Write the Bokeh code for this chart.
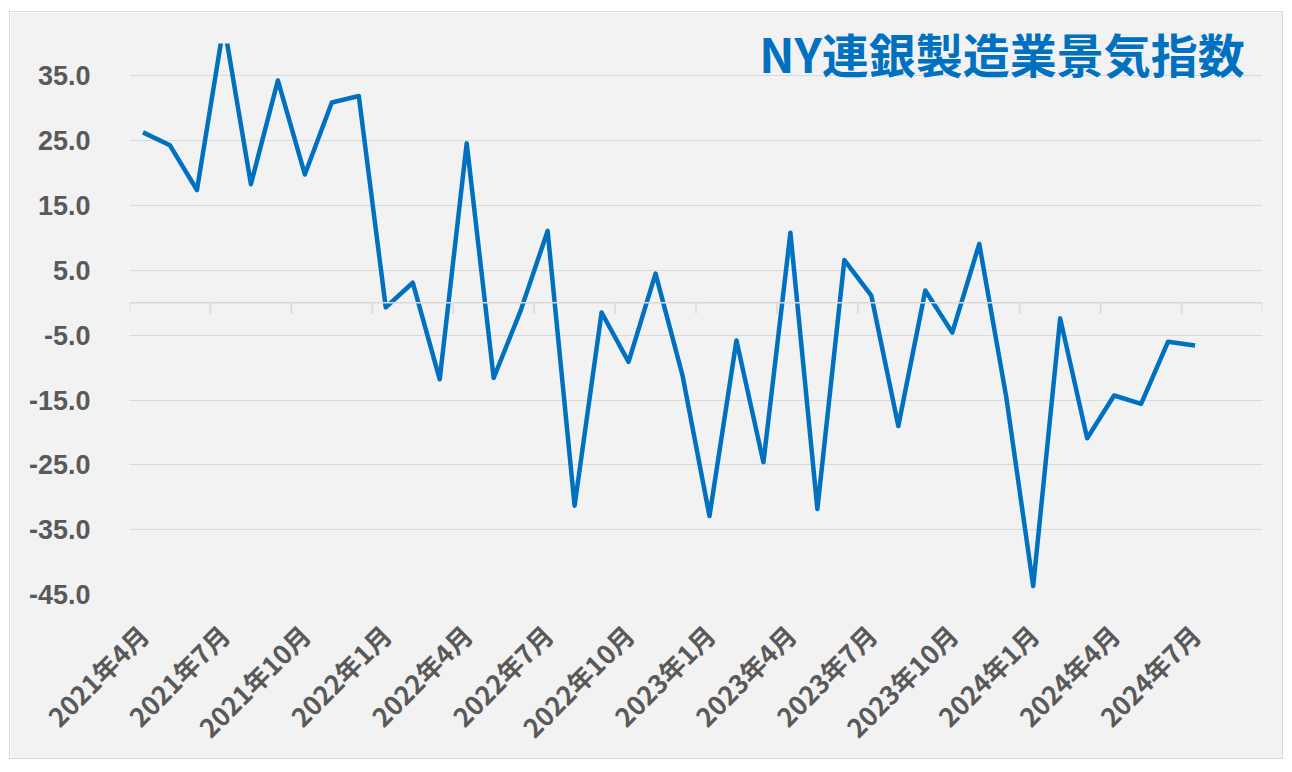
from math import pi
from bokeh.plotting import figure
from bokeh.models import (Range1d, FixedTicker, Span, Label, NumeralTickFormatter)
from bokeh.embed import file_html
from bokeh.resources import INLINE

# ---- data ----
months = ["2021年4月", "2021年5月", "2021年6月", "2021年7月", "2021年8月", "2021年9月",
          "2021年10月", "2021年11月", "2021年12月", "2022年1月", "2022年2月", "2022年3月",
          "2022年4月", "2022年5月", "2022年6月", "2022年7月", "2022年8月", "2022年9月",
          "2022年10月", "2022年11月", "2022年12月", "2023年1月", "2023年2月", "2023年3月",
          "2023年4月", "2023年5月", "2023年6月", "2023年7月", "2023年8月", "2023年9月",
          "2023年10月", "2023年11月", "2023年12月", "2024年1月", "2024年2月", "2024年3月",
          "2024年4月", "2024年5月", "2024年6月", "2024年7月", "2024年8月", "2024年9月"]
index_values = [26.3, 24.3, 17.4, 43.0, 18.3, 34.3, 19.8, 30.9, 31.9,
                -0.7, 3.1, -11.8, 24.6, -11.6, -1.2, 11.1, -31.3, -1.5, -9.1, 4.5, -11.2,
                -32.9, -5.8, -24.6, 10.8, -31.8, 6.6, 1.1, -19.0, 1.9, -4.6, 9.1, -14.5,
                -43.7, -2.4, -20.9, -14.3, -15.6, -6.0, -6.6]
y_ticks = [-45, -35, -25, -15, -5, 5, 15, 25, 35]
title_text = "NY連銀製造業景気指数"

label_step = 3
y_min, y_max = -45, 40      # value axis bounds (Excel-style, series clipped at max)
y_headroom = 1.55            # room above the axis max for the title

BG = "#F2F2F2"
GRID = "#D9D9D9"
LINE = "#0070C0"
TXT = "#595959"

n_cat = len(months)
xs = list(range(len(index_values)))
tick_idx = list(range(0, n_cat - 2, label_step))
overrides = {i: months[i] for i in tick_idx}

p = figure(width=1274, height=748, output_backend="svg", toolbar_location=None,
           x_range=Range1d(-0.5, n_cat - 0.5), y_range=Range1d(y_min, y_max + y_headroom),
           min_border_left=119, min_border_top=21, min_border_right=22, min_border_bottom=155,
           background_fill_color=BG, border_fill_color=BG, outline_line_color=None)
p.title.visible = False
p.margin = (11, 0, 0, 9)
p.styles = {"border": "1px solid #D9D9D9"}

# grid
p.xgrid.visible = False
p.ygrid.ticker = FixedTicker(ticks=y_ticks)
p.ygrid.grid_line_color = GRID
p.ygrid.grid_line_width = 1

# y axis
p.yaxis.ticker = FixedTicker(ticks=y_ticks)
p.yaxis.formatter = NumeralTickFormatter(format="0.0")
p.yaxis.axis_line_color = None
p.yaxis.major_tick_line_color = None
p.yaxis.minor_tick_line_color = None
p.yaxis.major_label_standoff = 33
p.yaxis.major_label_text_font = "Liberation Sans"
p.yaxis.major_label_text_font_style = "bold"
p.yaxis.major_label_text_font_size = "27px"
p.yaxis.major_label_text_color = TXT

# x axis (labels at bottom)
p.xaxis.ticker = FixedTicker(ticks=tick_idx)
p.xaxis.major_label_overrides = overrides
p.xaxis.major_label_orientation = pi / 4
p.xaxis.axis_line_color = None
p.xaxis.major_tick_line_color = None
p.xaxis.minor_tick_line_color = None
p.xaxis.major_label_standoff = 29
p.xaxis.major_label_text_font = "Noto Sans CJK JP"
p.xaxis.major_label_text_font_style = "bold"
p.xaxis.major_label_text_font_size = "26px"
p.xaxis.major_label_text_color = TXT

# category axis line at zero with tick marks between groups
p.add_layout(Span(location=0, dimension="width", line_color=GRID, line_width=1.5))
bounds = [i - 0.5 for i in range(0, n_cat + 1, label_step)]
p.ray(x=bounds, y=[0] * len(bounds), length=11, length_units="screen",
      angle=-pi / 2, line_color=GRID, line_width=1.5)

# series
p.line(xs, index_values, line_color=LINE, line_width=4.5, line_join="round")

# plot area ends at the axis max: mask the headroom strip above it
p.quad(left=[-1.0], right=[n_cat + 1.0], bottom=[y_max], top=[y_max + y_headroom + 1.0],
       fill_color=BG, fill_alpha=1.0, line_color=None, level="annotation")

# title
p.add_layout(Label(x=n_cat - 1.16, y=38.6, text=title_text, text_align="right",
                   text_baseline="middle", text_font="Noto Sans CJK JP", level="overlay",
                   text_font_style="bold", text_font_size="47px", text_color=LINE))

open("out.html", "w").write(file_html(p, INLINE))
